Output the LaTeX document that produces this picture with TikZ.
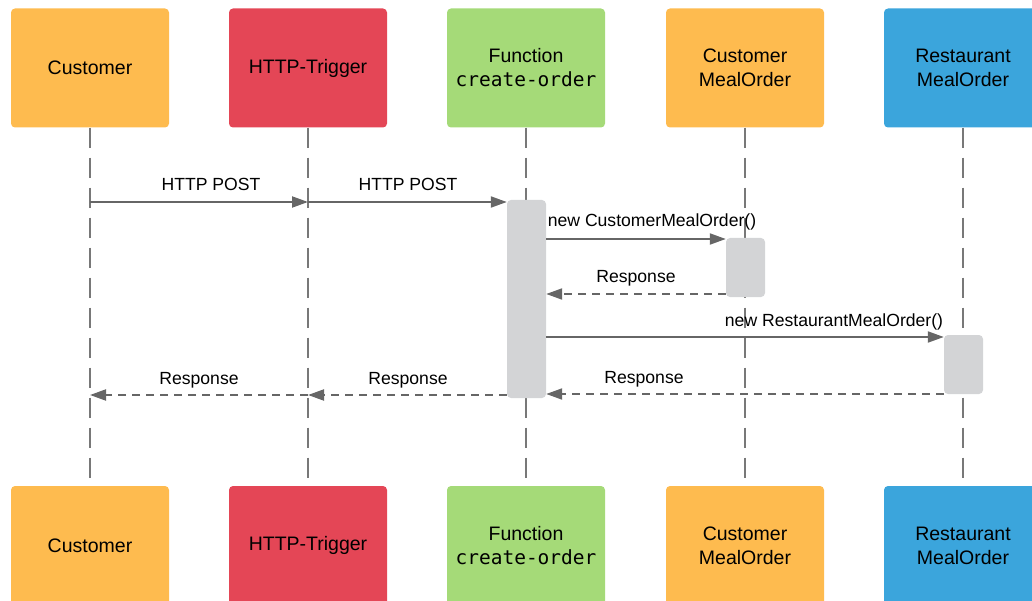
\documentclass[tikz,border=0pt]{standalone}
\usepackage{fontspec}
\setmainfont{Liberation Sans}
\setmonofont{DejaVu Sans Mono}
\usetikzlibrary{arrows.meta}

\definecolor{orangebox}{HTML}{FEBB4F}
\definecolor{redbox}{HTML}{E44656}
\definecolor{greenbox}{HTML}{A5DA78}
\definecolor{bluebox}{HTML}{3BA5DC}
\definecolor{actgray}{HTML}{D3D4D6}
\definecolor{linegray}{HTML}{666666}
\definecolor{lifegray}{HTML}{787878}

\begin{document}
\begin{tikzpicture}[x=1pt,y=-1pt,
  actor/.style={rounded corners=4pt, minimum width=158pt, minimum height=119pt,
    inner sep=0pt, align=center, font=\fontsize{19.5}{24}\selectfont},
  lifeline/.style={draw=lifegray, line width=2pt, dash pattern=on 20pt off 10pt},
  activation/.style={fill=actgray, rounded corners=4pt, minimum width=39pt, inner sep=0pt},
  msg/.style={draw=linegray, line width=2pt, -{Triangle[length=16pt,width=11pt]}},
  reply/.style={msg, dash pattern=on 8pt off 6pt},
  lbl/.style={anchor=base, inner sep=0pt, font=\fontsize{17.6}{20}\selectfont}]

\useasboundingbox (0,0) rectangle (1032,601);
\clip (0,0) rectangle (1032,601);

% participants, top row
\node[actor, fill=orangebox] (c1t) at (90,68)  {Customer};
\node[actor, fill=redbox]    (c2t) at (308,68) {HTTP-Trigger};
\node[actor, fill=greenbox]  (c3t) at (526,68) {Function\\\texttt{create-order}};
\node[actor, fill=orangebox] (c4t) at (745,68) {Customer\\MealOrder};
\node[actor, fill=bluebox]   (c5t) at (963,68) {Restaurant\\MealOrder};

% participants, bottom row
\node[actor, fill=orangebox] (c1b) at (90,545.5)  {Customer};
\node[actor, fill=redbox]    (c2b) at (308,545.5) {HTTP-Trigger};
\node[actor, fill=greenbox]  (c3b) at (526,545.5) {Function\\\texttt{create-order}};
\node[actor, fill=orangebox] (c4b) at (745,545.5) {Customer\\MealOrder};
\node[actor, fill=bluebox]   (c5b) at (963,545.5) {Restaurant\\MealOrder};

% lifelines
\foreach \i in {1,...,5}
  \draw[lifeline] (c\i t.south) -- (c\i b.north);

% activation bars
\node[activation, minimum height=198pt] (act1) at (526.5,299)   {};
\node[activation, minimum height=59pt]  (act2) at (745.5,267.5) {};
\node[activation, minimum height=59pt]  (act3) at (963.5,364.5) {};

% message rows
\coordinate (r1) at (0,202);
\coordinate (r2) at (0,239);
\coordinate (r3) at (0,294);
\coordinate (r4) at (0,337);
\coordinate (r5) at (0,394);
\coordinate (r6) at (0,395);

% messages
\draw[msg]   (c1t |- r1) -- (c2t |- r1);
\draw[msg]   (c2t |- r1) -- (act1.west |- r1);
\draw[msg]   (act1.east |- r2) -- (act2.west |- r2);
\draw[reply] (act2.west |- r3) -- (act1.east |- r3);
\draw[msg]   (act1.east |- r4) -- (act3.west |- r4);
\draw[reply] (act3.west |- r5) -- (act1.east |- r5);
\draw[reply] (act1.west |- r6) -- (c2t |- r6);
\draw[reply] (c2t |- r6) -- (c1t |- r6);

% message labels
\node[lbl] (l1) at (211,191) {HTTP POST};
\node[lbl] (l2) at (408,191) {HTTP POST};
\node[lbl] (l3) at (652,227) {new CustomerMealOrder()};
\node[lbl] (l4) at (636,283) {Response};
\node[lbl] (l5) at (834,326) {new RestaurantMealOrder()};
\node[lbl] (l6) at (644,383) {Response};
\node[lbl] (l7) at (408,384) {Response};
\node[lbl] (l8) at (199,384) {Response};
\end{tikzpicture}
\end{document}
